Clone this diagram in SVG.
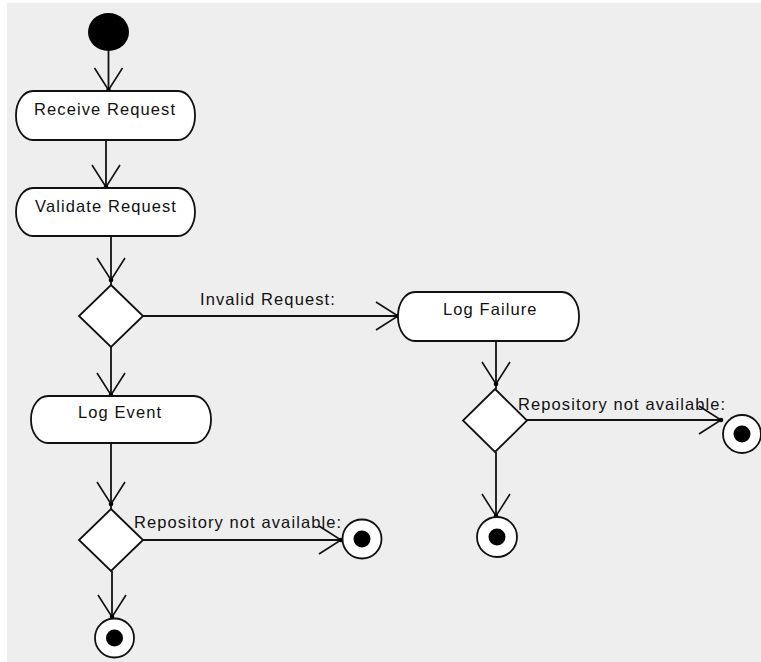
<svg xmlns="http://www.w3.org/2000/svg" width="761" height="662" viewBox="0 0 761 662">
  <style>
    .node { fill: #ffffff; stroke: #111111; stroke-width: 1.8; }
    .edge { fill: none; stroke: #111111; stroke-width: 1.8; }
    .lbl { font-family: "Liberation Sans", Arial, sans-serif; font-size: 16.5px; letter-spacing: 1.1px; fill: #111111; }
    .dot { fill: #000000; }
  </style>
  <defs>
    <marker id="arr" markerUnits="userSpaceOnUse" markerWidth="40" markerHeight="40" viewBox="-26 -20 30 40" refX="0" refY="0" orient="auto" overflow="visible">
      <path d="M-22 -14 L0 0 L-22 14" fill="none" stroke="#111111" stroke-width="1.6"/>
      <circle cx="0" cy="0" r="2.3" fill="#000"/>
    </marker>
  </defs>
  <rect x="0" y="0" width="761" height="662" fill="#ffffff"/>
  <rect x="7" y="3" width="754" height="659" fill="#eeeeee"/>

  <g id="connectors">
    <path class="edge" d="M108.5 50 L108.5 90" marker-end="url(#arr)"/>
    <path class="edge" d="M106 140 L106 187" marker-end="url(#arr)"/>
    <path class="edge" d="M111 236 L111 280 L111 285" marker-mid="url(#arr)"/>
    <path class="edge" d="M143 316 L398 316" marker-end="url(#arr)"/>
    <path class="edge" d="M111 347 L111 395" marker-end="url(#arr)"/>
    <path class="edge" d="M111 443 L111 504 L111 509" marker-mid="url(#arr)"/>
    <path class="edge" d="M143 540 L341 540" marker-end="url(#arr)"/>
    <path class="edge" d="M112 571 L112 617" marker-end="url(#arr)"/>
    <path class="edge" d="M496 341 L496 384 L496 389" marker-mid="url(#arr)"/>
    <path class="edge" d="M527 420 L721 420" marker-end="url(#arr)"/>
    <path class="edge" d="M496 452 L496 516" marker-end="url(#arr)"/>
    <text class="lbl" x="200" y="305">Invalid Request:</text>
    <text class="lbl" x="134" y="528">Repository not available:</text>
    <text class="lbl" x="518" y="410">Repository not available:</text>
  </g>

  <g id="start">
    <ellipse cx="108.5" cy="32" rx="20.5" ry="19" fill="#000000"/>
  </g>

  <g id="receive-request">
    <rect class="node" x="16" y="91" width="179" height="49" rx="17" ry="24"/>
    <text class="lbl" x="34" y="115">Receive Request</text>
  </g>

  <g id="validate-request">
    <rect class="node" x="16" y="188" width="179" height="48" rx="17" ry="24"/>
    <text class="lbl" x="35" y="212">Validate Request</text>
  </g>

  <g id="decision-valid">
    <polygon class="node" points="111,285 143,316 111,347 79,316"/>
  </g>

  <g id="log-failure">
    <rect class="node" x="398" y="292" width="181" height="49" rx="17" ry="24"/>
    <text class="lbl" x="443" y="315">Log Failure</text>
  </g>

  <g id="log-event">
    <rect class="node" x="31" y="396" width="180" height="47" rx="17" ry="23"/>
    <text class="lbl" x="78" y="418">Log Event</text>
  </g>

  <g id="decision-event">
    <polygon class="node" points="111,509 143,540 111,571 79,540"/>
  </g>

  <g id="decision-failure">
    <polygon class="node" points="495,389 527,420.5 495,452 463,420.5"/>
  </g>

  <g id="end-event-right">
    <circle class="node" cx="362" cy="539" r="19.5"/>
    <circle class="dot" cx="362" cy="539" r="8.5"/>
  </g>

  <g id="end-event-bottom">
    <circle class="node" cx="114.5" cy="638" r="19.5"/>
    <circle class="dot" cx="114.5" cy="638" r="8.5"/>
  </g>

  <g id="end-failure-right">
    <circle class="node" cx="742" cy="434" r="19"/>
    <circle class="dot" cx="742" cy="434" r="8.5"/>
  </g>

  <g id="end-failure-bottom">
    <circle class="node" cx="497" cy="537" r="20"/>
    <circle class="dot" cx="497" cy="537" r="8.5"/>
  </g>
</svg>
